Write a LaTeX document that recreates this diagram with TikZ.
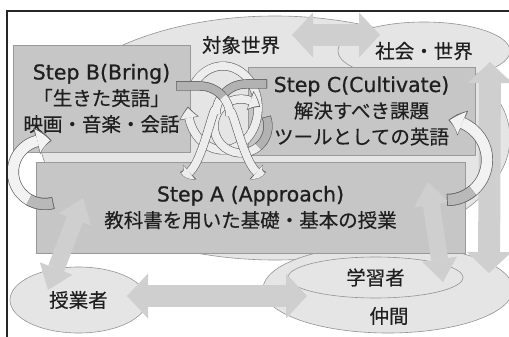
\documentclass[tikz,border=0pt]{standalone}
\usepackage{fontspec}
\setmainfont{DejaVu Sans}
\newfontfamily\lat{DejaVu Sans}[FakeBold=0.8]
\newfontfamily\jp{Noto Sans CJK JP}[FakeBold=0.35]
\usetikzlibrary{arrows.meta,bending,calc,shapes.geometric}
\begin{document}
\begin{tikzpicture}[x=1pt,y=-1pt,
  ell/.style={ellipse, draw=gray!85, line width=0.6pt, fill=gray!20, inner sep=0pt, text=black!88, font=\jp\fontsize{19.5}{24}\selectfont},
  box/.style={rectangle, draw=gray!80, line width=0.6pt, fill=gray!45, inner sep=0pt, align=center, text=black!88, font=\fontsize{19.5}{26}\selectfont},
  jtxt/.style={font=\jp\fontsize{19.5}{24}\selectfont, text=black!88},
  dblA/.style={line width=22pt, draw=gray!38, {Triangle[length=21pt,width=45pt,line width=0pt]}-{Triangle[length=21pt,width=45pt,line width=0pt]}},
  dblB/.style={line width=17pt, draw=gray!38, {Triangle[length=23pt,width=35pt,line width=0pt]}-{Triangle[length=23pt,width=35pt,line width=0pt]}},
  bigo/.style={line width=12pt, draw=black!62, -{Triangle[length=15pt,width=27pt,bend,line width=0pt]}},
  bigi/.style={line width=10.6pt, draw=#1, shorten <=0.7pt, shorten >=1.5pt, -{Triangle[length=12.8pt,width=24pt,bend,line width=0pt]}},
  bigop/.style={line width=12pt, draw=black!62},
  bigip/.style={line width=10.6pt, draw=#1, shorten <=0.7pt},
  smo/.style={line width=9pt, draw=black!62, -{Triangle[length=12pt,width=20pt,bend,line width=0pt]}},
  smi/.style={line width=7.8pt, draw=#1, shorten <=0.6pt, shorten >=1.4pt, -{Triangle[length=10pt,width=17.4pt,bend,line width=0pt]}},
  smop/.style={line width=9pt, draw=black!62},
  smip/.style={line width=7.8pt, draw=#1, shorten <=0.6pt},
]
\useasboundingbox (0,0) rectangle (509,337);
\clip (0,0) rectangle (509,337);
\fill[white] (0,0) rectangle (509,337);

% ellipses
\node[ell, minimum width=470pt, minimum height=244pt] (world) at (275,138) {};
\node[ell, minimum width=172pt, minimum height=58pt] (society) at (424,51) {社会・世界};
\node[ell, minimum width=250pt, minimum height=88pt] (peers) at (388,289) {};
\node[ell, minimum width=175pt, minimum height=41pt] (learner) at (375.5,277.5) {学習者};
\node[ell, minimum width=137pt, minimum height=66pt] (teacher) at (78.5,300) {授業者};

% step boxes
\node[box, minimum width=429pt, minimum height=91pt] (stepA) at (250.5,207.5)
  {{\lat\fontsize{20.5}{26}\selectfont Step A (Approach)}\\{\jp 教科書を用いた基礎・基本の授業}};
\node[box, minimum width=177pt, minimum height=107pt] (stepB) at (101.5,98.5)
  {{\lat\fontsize{20.5}{26}\selectfont Step B(Bring)}\\{\jp 「生きた英語」}\\{\jp 映画・音楽・会話}};
\node[box, minimum width=227pt, minimum height=88pt] (stepC) at (361.5,111)
  {{\lat\fontsize{20.5}{26}\selectfont Step C(Cultivate)}\\{\jp 解決すべき課題}\\{\jp ツールとしての英語}};

% labels
\node[jtxt] (worldlbl) at (241,45) {対象世界};
\node[jtxt] (peerlbl) at (389,316) {仲間};

% straight double arrows
\coordinate (t1) at (292,35);  \coordinate (t2) at (380,35);
\coordinate (v1) at (490,62);  \coordinate (v2) at (489,273);
\coordinate (l1) at (428,182); \coordinate (l2) at (443,282);
\coordinate (j1) at (83,198);  \coordinate (j2) at (48,290);
\coordinate (h1) at (127,296); \coordinate (h2) at (307,296);
\draw[dblA] (t1) -- (t2);
\draw[dblA] (v1) -- (v2);
\draw[dblB] (l1) -- (l2);
\draw[dblB] (j1) -- (j2);
\draw[dblA] (h1) -- (h2);

% big curved arrows
\coordinate (lc) at (45,172);
\coordinate (rc) at (447,160);
\draw[bigo] ($(lc)+(75:32)$) arc[start angle=75,end angle=282,radius=32];
\draw[bigi=gray!10] ($(lc)+(75:32)$) arc[start angle=75,end angle=282,radius=32];
\draw[bigop] ($(lc)+(75:32)$) arc[start angle=75,end angle=120,radius=32];
\draw[bigip=gray!55] ($(lc)+(75:32)$) arc[start angle=75,end angle=120,radius=32];

\draw[bigo] ($(rc)+(90:40)$) arc[start angle=90,end angle=-88,radius=40];
\draw[bigi=gray!10] ($(rc)+(90:40)$) arc[start angle=90,end angle=-88,radius=40];
\draw[bigop] ($(rc)+(90:40)$) arc[start angle=90,end angle=50,radius=40];
\draw[bigip=gray!55] ($(rc)+(90:40)$) arc[start angle=90,end angle=50,radius=40];

% central interlocking rings
\coordinate (r1) at (223,108);
\coordinate (r2) at (241,126);
\draw[smo] ($(r1)+(-150:35 and 42)$) arc[start angle=-150,end angle=182,x radius=35,y radius=42];
\draw[smi=gray!14] ($(r1)+(-150:35 and 42)$) arc[start angle=-150,end angle=182,x radius=35,y radius=42];

\draw[smo] ($(r2)+(-20:27)$) arc[start angle=-20,end angle=315,radius=27];
\draw[smi=gray!14] ($(r2)+(-20:27)$) arc[start angle=-20,end angle=315,radius=27];
\draw[smop] ($(r2)+(-20:27)$) arc[start angle=-20,end angle=50,radius=27];
\draw[smip=gray!60] ($(r2)+(-20:27)$) arc[start angle=-20,end angle=50,radius=27];

\coordinate (d2s) at (267,84);
\coordinate (d2e) at (180,172);
\draw[smo] (d2s) -- ++(-21,0) arc[start angle=-90,end angle=-180,radius=30] to[out=90,in=-45] (d2e);
\draw[smi=gray!14] (d2s) -- ++(-21,0) arc[start angle=-90,end angle=-180,radius=30] to[out=90,in=-45] (d2e);
\draw[smop] (d2s) -- ++(-21,0) arc[start angle=-90,end angle=-140,radius=30];
\draw[smip=gray!60] (d2s) -- ++(-21,0) arc[start angle=-90,end angle=-140,radius=30];

\coordinate (d1s) at (176,86);
\coordinate (d1e) at (266,172);
\draw[smo] (d1s) -- ++(24,0) arc[start angle=-90,end angle=0,radius=30] to[out=90,in=-135] (d1e);
\draw[smi=gray!14] (d1s) -- ++(24,0) arc[start angle=-90,end angle=0,radius=30] to[out=90,in=-135] (d1e);
\draw[smop] (d1s) -- ++(24,0) arc[start angle=-90,end angle=-40,radius=30];
\draw[smip=gray!60] (d1s) -- ++(24,0) arc[start angle=-90,end angle=-40,radius=30];

% frame
\draw[line width=1.3pt, black!85] (7,337) -- (7,11) -- (509,11);
\end{tikzpicture}
\end{document}
